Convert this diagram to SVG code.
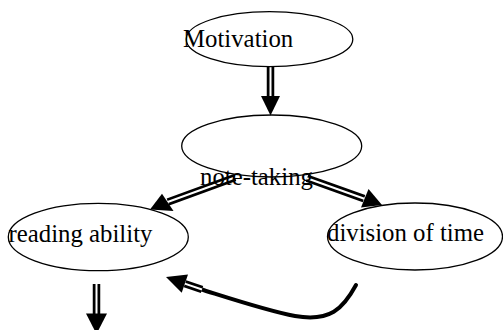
<svg xmlns="http://www.w3.org/2000/svg" width="503" height="330" viewBox="0 0 503 330">
<style>
.node ellipse{fill:none;stroke:#000;stroke-width:1.3}
text{font-family:"Liberation Serif","Times New Roman",serif;font-size:24.8px;fill:#000}
.outer{stroke:#000;stroke-width:7.5;fill:none}
.inner{stroke:#fff;stroke-width:2;fill:none}
.head{fill:#000}
.curve{stroke:#000;stroke-width:4;fill:none;stroke-linecap:round}
</style>
<rect width="503" height="330" fill="#fff"/>
<g id="connectors">
  <g id="e1">
    <line class="outer" x1="270.5" y1="67" x2="270.5" y2="97"/>
    <line class="inner" x1="270.5" y1="67" x2="270.5" y2="98"/>
    <polygon class="head" points="261,96 280,96 270.5,115.5"/>
  </g>
  <g id="e2">
    <line class="outer" x1="235" y1="177.5" x2="168" y2="202"/>
    <line class="inner" x1="235" y1="177.5" x2="167" y2="202.3"/>
    <polygon class="head" points="150,209.5 162,193.8 173.5,211"/>
  </g>
  <g id="e3">
    <line class="outer" x1="307" y1="178.3" x2="364" y2="198.6"/>
    <line class="inner" x1="307" y1="178.3" x2="365" y2="199"/>
    <polygon class="head" points="382,205 368.5,189 361,207.5"/>
  </g>
  <g id="e4">
    <line class="outer" x1="96.5" y1="284" x2="96.5" y2="314"/>
    <line class="inner" x1="96.5" y1="284" x2="96.5" y2="315"/>
    <polygon class="head" points="86,313.5 107,313.5 96.5,334"/>
  </g>
  <g id="e5">
    <path class="curve" d="M356,285 C343,309 330,322 295,316 C268,311 232,299 200,289"/>
    <line class="outer" x1="202" y1="289.5" x2="185" y2="283.7"/>
    <line class="inner" x1="202" y1="289.5" x2="184" y2="283.4"/>
    <polygon class="head" points="166,277 188,274.5 181.7,292.7"/>
  </g>
</g>
<g id="motivation" class="node">
  <ellipse cx="269.5" cy="39.2" rx="83.3" ry="27.5"/>
  <text x="183" y="47">Motivation</text>
</g>
<g id="note-taking" class="node">
  <ellipse cx="271.7" cy="146" rx="90" ry="31"/>
  <text x="200" y="185">note-taking</text>
</g>
<g id="reading-ability" class="node">
  <ellipse cx="98.3" cy="237" rx="90" ry="33.7"/>
  <text x="8.5" y="242">reading ability</text>
</g>
<g id="division-of-time" class="node">
  <ellipse cx="415" cy="236.5" rx="87.5" ry="33.5"/>
  <text x="327" y="241">division of time</text>
</g>
</svg>
